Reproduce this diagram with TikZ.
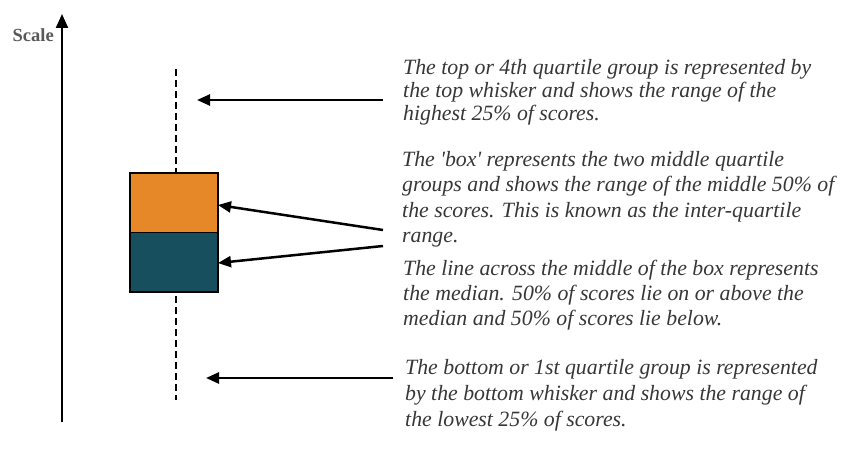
\documentclass[tikz,border=0pt]{standalone}
\usepackage{fontspec}
\setmainfont{Liberation Serif}
\usetikzlibrary{arrows.meta}
\definecolor{boxorange}{RGB}{230,135,40}
\definecolor{boxteal}{RGB}{24,79,94}
\definecolor{txtgray}{RGB}{55,55,55}
\tikzset{
  axisline/.style={line width=2.2pt,-{Triangle[length=14pt,width=12pt]}},
  whisker/.style={line width=2pt,dash pattern=on 7pt off 4pt},
  pointer/.style={line width=2.5pt,-{Triangle[length=13pt,width=11pt]}},
  halfbox/.style={draw=black,line width=1.5pt,minimum width=88pt,minimum height=59.5pt,inner sep=0pt,outer sep=0pt,anchor=north west},
  note/.style={font=\fontsize{21.8}{25.2}\selectfont\itshape,text=txtgray,align=left,anchor=north west,inner sep=0pt},
}
\begin{document}
\begin{tikzpicture}[x=1pt,y=-1pt]
\useasboundingbox (0,0) rectangle (845,449);
% axis
\coordinate (axbot) at (62,422);
\coordinate (axtop) at (62,14);
\draw[axisline] (axbot) -- (axtop);
\node[font=\fontsize{18.5}{20}\selectfont\bfseries,text=black!65,anchor=base east,inner sep=0pt] (scale) at (54,42) {Scale};
% whiskers
\coordinate (wtop) at (176,69);
\coordinate (wbot) at (176,400);
% box
\node[halfbox,fill=boxorange] (upper) at (130,173) {};
\node[halfbox,fill=boxteal] (lower) at (130,232.5) {};
\draw[whisker] (wtop) -- (upper.north-|wtop);
\draw[whisker] (lower.south-|wbot) ++(0,4) -- (wbot);
% texts
\node[note,font=\fontsize{21.8}{23.3}\selectfont\itshape] (t1) at (403,59) {The top or 4th quartile group is represented by\\the top whisker and shows the range of\ the\\highest\ 25\% of scores.};
\node[note,font=\fontsize{21.8}{25.4}\selectfont\itshape] (t2) at (402,151) {The \textquotesingle box\textquotesingle\ represents the two middle quartile\\groups and shows the range of the middle 50\% of\\the scores. This is known as the inter-quartile\\range.};
\node[note] (t3) at (403,260) {The line across the middle of the box represents\\the median. 50\% of scores lie on or above the\\median and 50\% of scores lie below.};
\node[note,font=\fontsize{21.8}{26}\selectfont\itshape] (t4) at (405,359) {The bottom or 1st quartile group is represented\\by the bottom whisker and shows the range of\\the\ lowest 25\% of scores.};
% pointers
\coordinate (p1) at (383,100);
\coordinate (p1e) at (197,100);
\coordinate (p2) at (383,230);
\coordinate (p3) at (383,246);
\coordinate (p4) at (393,378);
\coordinate (p4e) at (206,378);
\draw[pointer] (p1) -- (p1e);
\draw[pointer] (p2) -- (upper.east|-0,205) ;
\draw[pointer] (p3) -- (lower.east|-0,263);
\draw[pointer] (p4) -- (p4e);
\end{tikzpicture}
\end{document}
